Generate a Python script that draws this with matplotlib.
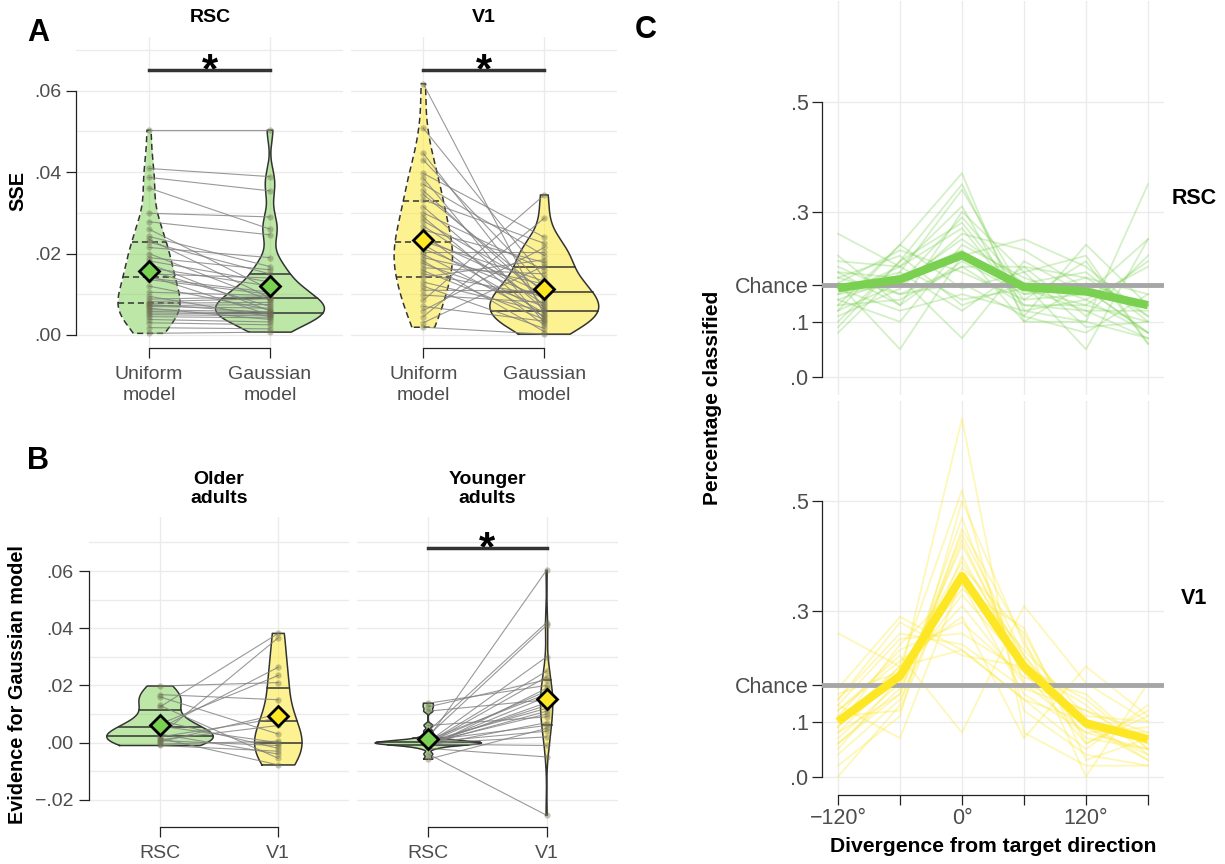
import numpy as np
import matplotlib.pyplot as plt

plt.rcParams['font.family'] = ['Liberation Sans', 'DejaVu Sans']

W, H = 1225, 864
GREEN = '#7AD151'
YELLOW = '#FDE725'
INK = '#222222'
TICK = '#4D4D4D'
GRID = '#EBEBEB'

# ---- panel A: SSE per participant (same participant order in both lists)
rsc_uniform = [0.0503, 0.0409, 0.0387, 0.0361, 0.0299, 0.0278, 0.0260, 0.0242, 0.0235, 0.0228,
               0.0215, 0.0200, 0.0190, 0.0182, 0.0175, 0.0165, 0.0158, 0.0150, 0.0145, 0.0140,
               0.0136, 0.0120, 0.0105, 0.0095, 0.0088, 0.0082, 0.0078, 0.0075, 0.0072, 0.0070,
               0.0066, 0.0062, 0.0058, 0.0054, 0.0050, 0.0045, 0.0038, 0.0030, 0.0018, 0.0004]
rsc_gaussian = [0.0503, 0.0389, 0.0354, 0.0260, 0.0290, 0.0246, 0.0112, 0.0168, 0.0091, 0.0150,
                0.0190, 0.0085, 0.0160, 0.0130, 0.0059, 0.0120, 0.0070, 0.0140, 0.0049, 0.0105,
                0.0100, 0.0062, 0.0097, 0.0045, 0.0094, 0.0089, 0.0080, 0.0055, 0.0075, 0.0066,
                0.0038, 0.0057, 0.0053, 0.0051, 0.0047, 0.0042, 0.0032, 0.0025, 0.0015, 0.0007]
v1_uniform = [0.0617, 0.0508, 0.0446, 0.0430, 0.0397, 0.0385, 0.0370, 0.0355, 0.0345, 0.0332,
              0.0315, 0.0300, 0.0290, 0.0280, 0.0268, 0.0258, 0.0248, 0.0238, 0.0230, 0.0222,
              0.0212, 0.0205, 0.0198, 0.0190, 0.0182, 0.0175, 0.0165, 0.0158, 0.0150, 0.0142,
              0.0130, 0.0120, 0.0110, 0.0098, 0.0085, 0.0070, 0.0060, 0.0045, 0.0030, 0.0019]
v1_gaussian = [0.0050, 0.0140, 0.0066, 0.0118, 0.0240, 0.0030, 0.0195, 0.0085, 0.0104, 0.0225,
               0.0062, 0.0160, 0.0042, 0.0112, 0.0075, 0.0178, 0.0024, 0.0101, 0.0132, 0.0054,
               0.0090, 0.0205, 0.0046, 0.0125, 0.0008, 0.0070, 0.0150, 0.0038, 0.0096, 0.0185,
               0.0058, 0.0016, 0.0108, 0.0080, 0.0344, 0.0034, 0.0215, 0.0287, 0.0170, 0.0002]
model_labels = ['Uniform\nmodel', 'Gaussian\nmodel']

# ---- panel B: evidence for Gaussian model
older_rsc = [0.0198, 0.0168, 0.0160, 0.0130, 0.0125, 0.0077, 0.0065, 0.0058, 0.0050,
             0.0030, 0.0025, 0.0020, 0.0015, 0.0010, 0.0007, 0.0003, -0.0005, -0.0010]
older_v1 = [0.0210, 0.0150, 0.0030, -0.0055, 0.0382, -0.0020, 0.0235, 0.0000, 0.0264,
            -0.0040, 0.0367, 0.0085, -0.0078, 0.0060, -0.0010, 0.0100, 0.0005, -0.0030]
younger_rsc = [0.0138, 0.0125, 0.0110, 0.0060, 0.0040, 0.0025, 0.0015, 0.0010, 0.0008,
               0.0005, 0.0003, 0.0002, 0.0001, 0.0000, 0.0000, -0.0001, -0.0002, -0.0003,
               -0.0004, -0.0005, -0.0006, -0.0008, -0.0010, -0.0015, -0.0020, -0.0040, -0.0058]
younger_v1 = [0.0200, 0.0220, 0.0150, 0.0090, 0.0420, 0.0410, 0.0603, 0.0170, 0.0060,
              0.0120, 0.0300, 0.0040, 0.0180, 0.0250, 0.0100, 0.0130, 0.0020, 0.0230,
              0.0110, -0.0010, 0.0140, 0.0160, 0.0070, 0.0190, -0.0050, -0.0254, 0.0050]
region_labels = ['RSC', 'V1']

# ---- panel C: proportion classified by divergence from target
directions = [-120, -60, 0, 60, 120, 180]
dir_labels = ['\u2212120\u00b0', '', '0\u00b0', '', '120\u00b0', '']
chance = 1 / 6
rsc_profiles = [
    [0.26, 0.20, 0.14, 0.16, 0.12, 0.12], [0.12, 0.24, 0.37, 0.10, 0.10, 0.07],
    [0.19, 0.13, 0.30, 0.19, 0.09, 0.10], [0.17, 0.05, 0.22, 0.25, 0.20, 0.11],
    [0.10, 0.21, 0.35, 0.12, 0.14, 0.08], [0.14, 0.18, 0.07, 0.21, 0.15, 0.25],
    [0.20, 0.15, 0.17, 0.11, 0.24, 0.13], [0.08, 0.19, 0.34, 0.15, 0.16, 0.08],
    [0.15, 0.17, 0.29, 0.16, 0.13, 0.10], [0.18, 0.22, 0.13, 0.17, 0.05, 0.25],
    [0.13, 0.14, 0.20, 0.20, 0.18, 0.15], [0.21, 0.20, 0.27, 0.13, 0.12, 0.07],
    [0.16, 0.12, 0.15, 0.12, 0.10, 0.35], [0.11, 0.16, 0.26, 0.23, 0.16, 0.08],
    [0.17, 0.23, 0.19, 0.14, 0.21, 0.06], [0.14, 0.10, 0.24, 0.18, 0.14, 0.20],
    [0.19, 0.18, 0.23, 0.10, 0.17, 0.13], [0.15, 0.20, 0.31, 0.11, 0.08, 0.15],
    [0.13, 0.24, 0.16, 0.19, 0.22, 0.06], [0.22, 0.13, 0.21, 0.15, 0.18, 0.11],
    [0.16, 0.19, 0.12, 0.20, 0.11, 0.22], [0.12, 0.17, 0.25, 0.17, 0.19, 0.10],
    [0.18, 0.15, 0.20, 0.13, 0.13, 0.21], [0.09, 0.21, 0.28, 0.14, 0.15, 0.13],
]
v1_profiles = [
    [0.26, 0.20, 0.23, 0.14, 0.10, 0.07], [0.05, 0.18, 0.65, 0.08, 0.02, 0.02],
    [0.10, 0.20, 0.52, 0.12, 0.04, 0.02], [0.14, 0.28, 0.22, 0.20, 0.10, 0.06],
    [0.08, 0.15, 0.47, 0.17, 0.08, 0.05], [0.12, 0.22, 0.08, 0.31, 0.17, 0.10],
    [0.06, 0.16, 0.44, 0.22, 0.07, 0.05], [0.13, 0.25, 0.26, 0.19, 0.09, 0.08],
    [0.02, 0.11, 0.50, 0.24, 0.09, 0.04], [0.15, 0.19, 0.31, 0.17, 0.12, 0.06],
    [0.09, 0.24, 0.35, 0.15, 0.08, 0.09], [0.11, 0.12, 0.40, 0.20, 0.13, 0.04],
    [0.16, 0.29, 0.23, 0.14, 0.05, 0.13], [0.07, 0.17, 0.42, 0.21, 0.10, 0.03],
    [0.12, 0.21, 0.29, 0.07, 0.20, 0.11], [0.04, 0.14, 0.38, 0.26, 0.06, 0.12],
    [0.10, 0.18, 0.33, 0.20, 0.14, 0.05], [0.13, 0.07, 0.36, 0.23, 0.11, 0.10],
    [0.00, 0.13, 0.45, 0.25, 0.00, 0.17], [0.11, 0.23, 0.28, 0.18, 0.15, 0.05],
    [0.08, 0.19, 0.39, 0.22, 0.09, 0.03], [0.14, 0.26, 0.24, 0.16, 0.12, 0.08],
    [0.06, 0.15, 0.43, 0.19, 0.06, 0.11], [0.09, 0.20, 0.34, 0.27, 0.03, 0.07],
]
rsc_mean = [0.161, 0.177, 0.221, 0.163, 0.155, 0.130]
v1_mean = [0.100, 0.183, 0.364, 0.200, 0.097, 0.068]

fig = plt.figure(figsize=(W / 100, H / 100), dpi=100)


def px_axes(x0, y0, x1, y1):
    return fig.add_axes([x0 / W, 1 - y1 / H, (x1 - x0) / W, (y1 - y0) / H])


def ftext(x, y, s, **kw):
    fig.text(x / W, 1 - y / H, s, **kw)


def density(vals, n=512):
    # R density() with bw.nrd0, trimmed to the data range (ggplot violin)
    v = np.asarray(vals, float)
    q75, q25 = np.percentile(v, [75, 25])
    bw = 0.9 * min(v.std(ddof=1), (q75 - q25) / 1.34) * len(v) ** -0.2
    y = np.linspace(v.min(), v.max(), n)
    d = np.exp(-0.5 * ((y[:, None] - v[None, :]) / bw) ** 2).sum(1)
    return y, d / (len(v) * bw * np.sqrt(2 * np.pi))


def violin(ax, pos, vals, peak, color, dashed):
    y, d = density(vals)
    half = 0.45 * d / peak
    ls = (0, (4, 2.5)) if dashed else '-'
    ax.fill_betweenx(y, pos - half, pos + half, color=color, alpha=0.5, lw=0, zorder=2)
    ax.plot(np.r_[pos - half, (pos + half)[::-1], pos - half[0]],
            np.r_[y, y[::-1], y[0]], color='#333333', lw=1.1, ls=ls, zorder=3)
    cdf = np.cumsum(d)
    cdf /= cdf[-1]
    for q in np.interp([0.25, 0.5, 0.75], cdf, y):
        w = np.interp(q, y, half)
        ax.plot([pos - w, pos + w], [q, q], color='#333333', lw=1.1, ls=ls, zorder=3)


def paired_violins(ax, a, b, col_a, col_b, dash_a):
    peak = max(density(a)[1].max(), density(b)[1].max())
    violin(ax, 0, a, peak, col_a, dash_a)
    violin(ax, 1, b, peak, col_b, False)
    for va, vb in zip(a, b):
        ax.plot([0, 1], [va, vb], color='#808080', lw=0.8, alpha=0.8, zorder=4)
    ax.scatter(np.zeros(len(a)), a, s=20, color='#6E6E50', alpha=0.4, lw=0, zorder=5)
    ax.scatter(np.ones(len(b)), b, s=20, color='#6E6E50', alpha=0.4, lw=0, zorder=5)
    ax.plot(0, np.mean(a), 'D', ms=10.5, mfc=col_a, mec='black', mew=2, zorder=6)
    ax.plot(1, np.mean(b), 'D', ms=10.5, mfc=col_b, mec='black', mew=2, zorder=6)


def star_bar(ax, y):
    ax.plot([0, 1], [y, y], color='#333333', lw=2.5, clip_on=False, zorder=4)
    ax.annotate('*', xy=(0.5, y), xytext=(0, -9), textcoords='offset points',
                ha='center', va='baseline', fontsize=30, fontweight='bold')


def style_cat(ax, ylim, grid_vals, labels, yticks=None, yticklabels=None, ybounds=None):
    ax.set_xlim(-0.6, 1.6)
    ax.set_ylim(*ylim)
    for g in grid_vals:
        ax.axhline(g, color=GRID, lw=1.0, zorder=0)
    for x in (0, 1):
        ax.axvline(x, color=GRID, lw=1.0, zorder=0)
    for s in ('top', 'right'):
        ax.spines[s].set_visible(False)
    ax.spines['bottom'].set_bounds(0, 1)
    ax.set_xticks([0, 1])
    ax.set_xticklabels(labels)
    for t in ax.get_xticklabels():
        t.set_linespacing(1.3)
    if yticks is None:
        ax.spines['left'].set_visible(False)
        ax.set_yticks([])
    else:
        ax.spines['left'].set_bounds(*ybounds)
        ax.set_yticks(yticks)
        ax.set_yticklabels(yticklabels)
    for s in ('left', 'bottom'):
        ax.spines[s].set_color(INK)
        ax.spines[s].set_linewidth(0.9)
    ax.tick_params(length=7, width=0.9, color=INK, labelcolor=TICK, labelsize=14, pad=4)
    ax.tick_params(axis='x', pad=6)


# ---------------- panel A
a_ylim = (-0.0032, 0.0732)
a_grid = np.arange(0, 0.0701, 0.01)
a_ticks = [0, 0.02, 0.04, 0.06]
a_tlabels = ['.00', '.02', '.04', '.06']

ax = px_axes(76.4, 37, 342.6, 348)
paired_violins(ax, rsc_uniform, rsc_gaussian, GREEN, GREEN, True)
style_cat(ax, a_ylim, a_grid, model_labels, a_ticks, a_tlabels, (0, 0.06))
star_bar(ax, 0.0651)

ax = px_axes(350.7, 37, 616.9, 348)
paired_violins(ax, v1_uniform, v1_gaussian, YELLOW, YELLOW, True)
style_cat(ax, a_ylim, a_grid, model_labels)
star_bar(ax, 0.0651)

# ---------------- panel B
b_ylim = (-0.0295, 0.0789)
b_grid = np.arange(-0.02, 0.0701, 0.01)
b_ticks = [-0.02, 0, 0.02, 0.04, 0.06]
b_tlabels = ['\u2212.02', '.00', '.02', '.04', '.06']

ax = px_axes(89, 517, 349.3, 827)
paired_violins(ax, older_rsc, older_v1, GREEN, YELLOW, False)
style_cat(ax, b_ylim, b_grid, region_labels, b_ticks, b_tlabels, (-0.02, 0.06))

ax = px_axes(357.3, 517, 617.6, 827)
paired_violins(ax, younger_rsc, younger_v1, GREEN, YELLOW, False)
style_cat(ax, b_ylim, b_grid, region_labels)
star_bar(ax, 0.0682)

# ---------------- panel C
c_ticks = [0, 0.1, chance, 0.3, 0.5]
c_tlabels = ['.0', '.1', 'Chance', '.3', '.5']
for (y0, y1), profiles, mean, col, bottom in [
        ((1.3, 394.6), rsc_profiles, rsc_mean, GREEN, False),
        ((400.6, 794.6), v1_profiles, v1_mean, YELLOW, True)]:
    ax = px_axes(822.5, y0, 1163.5, y1)
    ax.set_xlim(-135, 195)
    ax.set_ylim(-0.0325, 0.6825)
    for g in c_ticks:
        ax.axhline(g, color=GRID, lw=1.0, zorder=0)
    for d in directions:
        ax.axvline(d, color=GRID, lw=1.0, zorder=0)
    for p in profiles:
        ax.plot(directions, p, color=col, alpha=0.32, lw=1.3, zorder=2)
    ax.axhline(chance, color='#A6A6A6', lw=3.5, zorder=3)
    ax.plot(directions, mean, color=col, lw=6, solid_capstyle='butt', zorder=4)
    for s in ('top', 'right'):
        ax.spines[s].set_visible(False)
    ax.spines['left'].set_bounds(0, 0.5)
    ax.set_yticks(c_ticks)
    ax.set_yticklabels(c_tlabels)
    if bottom:
        ax.spines['bottom'].set_bounds(-120, 180)
        ax.set_xticks(directions)
        ax.set_xticklabels(dir_labels)
    else:
        ax.spines['bottom'].set_visible(False)
        ax.set_xticks([])
    for s in ('left', 'bottom'):
        ax.spines[s].set_color(INK)
        ax.spines[s].set_linewidth(0.9)
    ax.tick_params(length=7, width=0.9, color=INK, labelcolor=TICK, labelsize=15.5, pad=3)

# ---------------- text
bold = dict(fontweight='bold', ha='center', va='center')
ftext(38, 33, 'A', fontsize=22, **bold)
ftext(38, 461, 'B', fontsize=22, **bold)
ftext(646, 30, 'C', fontsize=22, **bold)
ftext(210, 17, 'RSC', fontsize=14, **bold)
ftext(484, 17, 'V1', fontsize=14, **bold)
ftext(219, 489, 'Older\nadults', fontsize=14, linespacing=1.15, **bold)
ftext(487, 489, 'Younger\nadults', fontsize=14, linespacing=1.15, **bold)
ftext(18, 191, 'SSE', fontsize=14.3, rotation=90, **bold)
ftext(18, 685, 'Evidence for Gaussian model', fontsize=14.3, rotation=90, **bold)
ftext(712, 398, 'Percentage classified', fontsize=15, rotation=90, **bold)
ftext(993, 847, 'Divergence from target direction', fontsize=15.2, **bold)
ftext(1194, 198, 'RSC', fontsize=15.5, **bold)
ftext(1194, 598, 'V1', fontsize=15.5, **bold)

fig.savefig('out.png', dpi=100)
